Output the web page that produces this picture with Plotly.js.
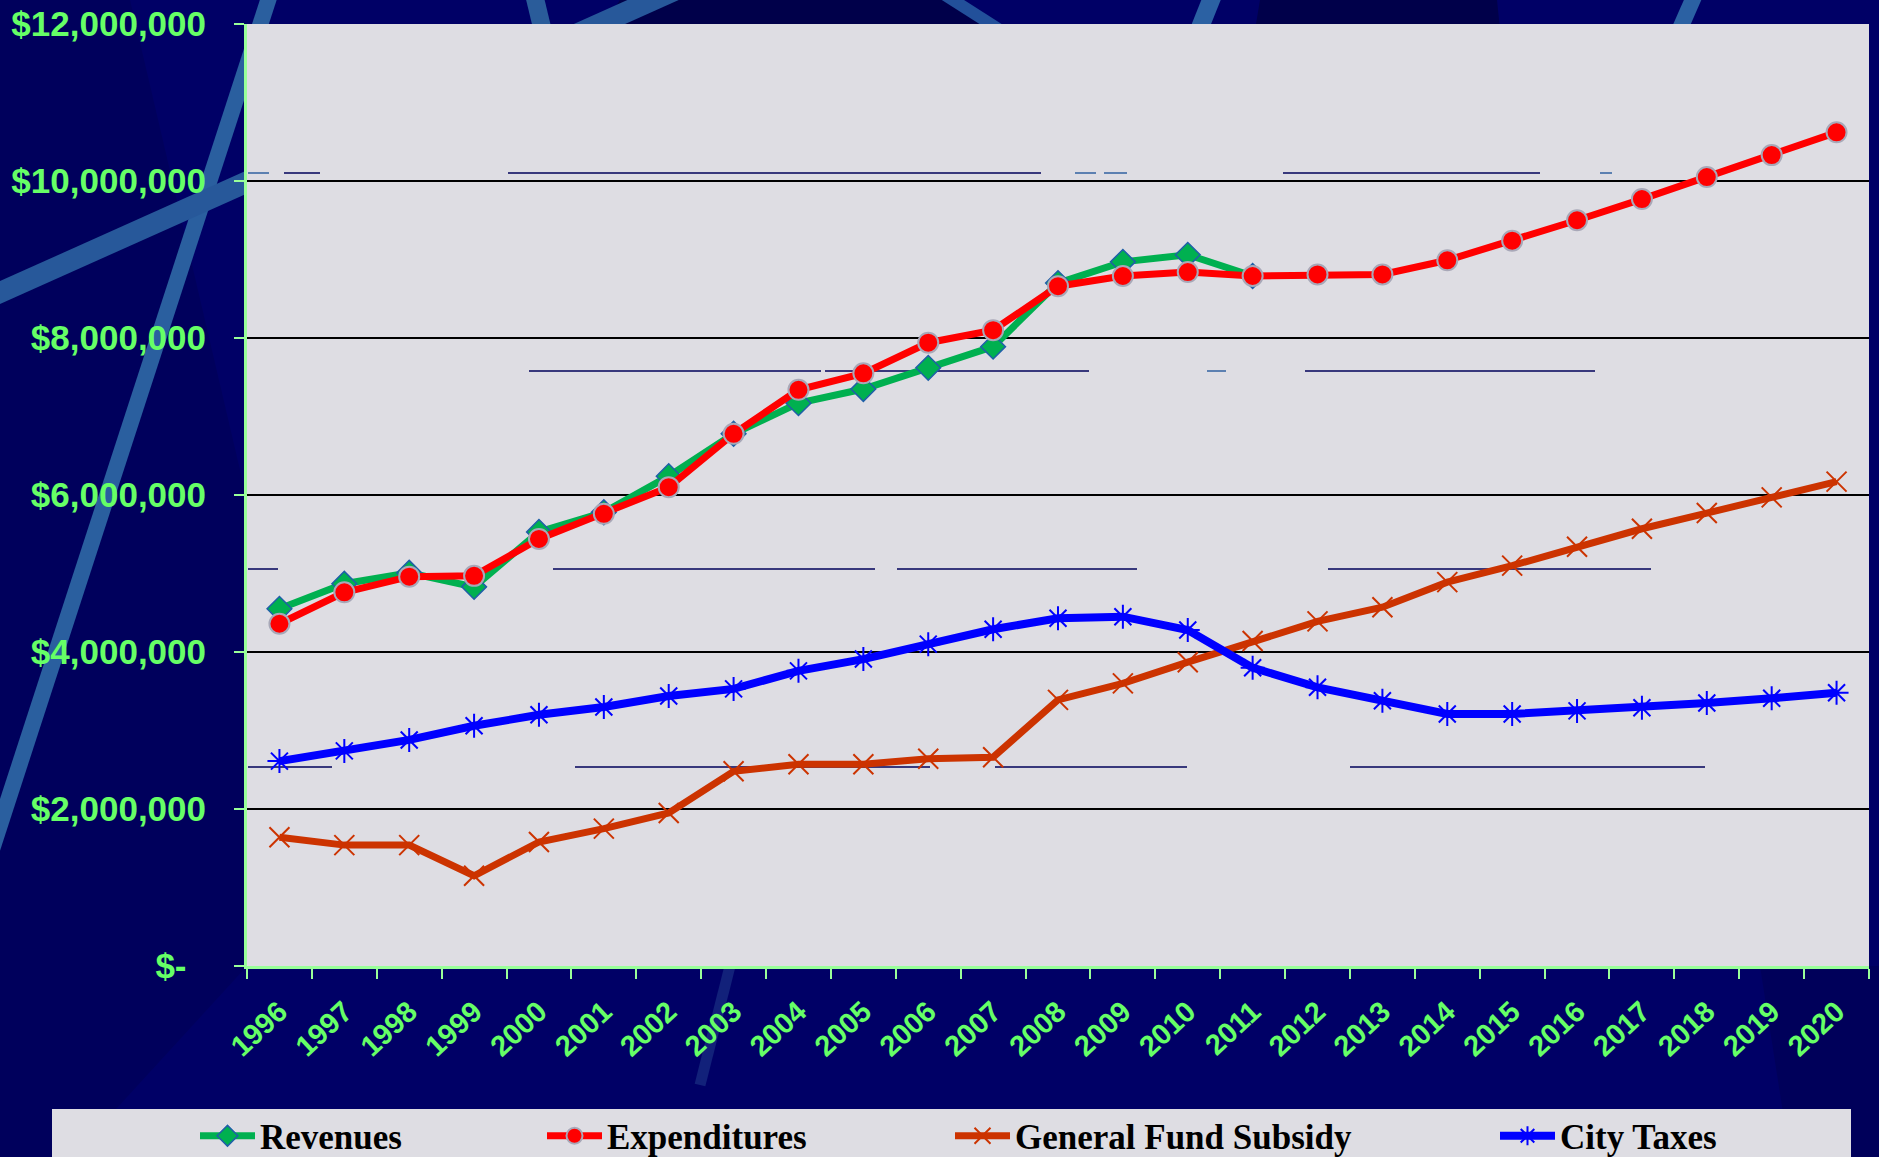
<!DOCTYPE html>
<html>
<head>
<meta charset="utf-8">
<script src="https://cdn.plot.ly/plotly-3.0.1.min.js"></script>
<style>html,body{margin:0;padding:0;background:#000066;}#chart{width:1879px;height:1157px;}</style>
</head>
<body>
<div id="chart"></div>
<script>
// ---- data ----
var years = ['1996','1997','1998','1999','2000','2001','2002','2003','2004','2005','2006','2007','2008','2009','2010','2011','2012','2013','2014','2015','2016','2017','2018','2019','2020'];
var revenues = [4550000,4870000,5010000,4830000,5530000,5780000,6240000,6780000,7170000,7350000,7620000,7890000,8700000,8970000,9060000,8790000,null,null,null,null,null,null,null,null,null];
var expenditures = [4360000,4760000,4960000,4970000,5440000,5760000,6100000,6780000,7340000,7550000,7940000,8100000,8660000,8790000,8840000,8790000,8810000,8810000,8990000,9240000,9500000,9770000,10050000,10330000,10620000];
var generalFundSubsidy = [1640000,1540000,1540000,1150000,1580000,1750000,1950000,2480000,2570000,2570000,2640000,2660000,3390000,3600000,3870000,4140000,4390000,4570000,4890000,5100000,5340000,5570000,5770000,5970000,6170000];
var cityTaxes = [2610000,2740000,2880000,3060000,3200000,3300000,3440000,3530000,3760000,3910000,4100000,4290000,4430000,4450000,4280000,3800000,3550000,3380000,3210000,3210000,3250000,3290000,3350000,3410000,3480000];
var seriesNames = ['Revenues','Expenditures','General Fund Subsidy','City Taxes'];
var yTickVals = [0,2000000,4000000,6000000,8000000,10000000,12000000];
var yTickText = ['$-\u2007','$2,000,000','$4,000,000','$6,000,000','$8,000,000','$10,000,000','$12,000,000'];

// ---- geometry helpers (decoration only) ----
var W = 1879, H = 1157, L = 247, R = 1869, T = 24, B = 966;
function px(x){ return (x - L) / (R - L); }
function py(y){ return (B - y) / (B - T); }

var traces = [
  {x: years, y: revenues, name: seriesNames[0], type: 'scatter', mode: 'lines+markers', legend: 'legend',
   line: {color: '#00B050', width: 7},
   marker: {symbol: 'diamond', size: 19, color: '#00B050', line: {color: '#1F5FA8', width: 1.5}}},
  {x: years, y: expenditures, name: seriesNames[1], type: 'scatter', mode: 'lines+markers', legend: 'legend2',
   line: {color: '#FF0000', width: 7},
   marker: {symbol: 'circle', size: 20, color: '#FF0000', line: {color: '#A8A8B8', width: 2}}},
  {x: years, y: generalFundSubsidy, name: seriesNames[2], type: 'scatter', mode: 'lines+markers', legend: 'legend3',
   line: {color: '#CC3300', width: 7},
   marker: {symbol: 'x-thin-open', size: 20, color: '#CC3300', line: {color: '#CC3300', width: 2}}},
  {x: years, y: cityTaxes, name: seriesNames[3], type: 'scatter', mode: 'lines+markers', legend: 'legend4',
   line: {color: '#0000FF', width: 8},
   marker: {symbol: 'asterisk-open', size: 20, color: '#0000FF', line: {color: '#0000FF', width: 2}}}
];

var shapes = [];
function poly(pts, c){
  var d = pts.map(function(p, i){ return (i ? 'L' : 'M') + px(p[0]) + ',' + py(p[1]); }).join('') + 'Z';
  shapes.push({type:'path', xref:'paper', yref:'paper', path:d, layer:'below', fillcolor:c, line:{width:0}});
}
function stripe(x0,y0,x1,y1,w,c){
  shapes.push({type:'line', xref:'paper', yref:'paper', x0:px(x0), y0:py(y0), x1:px(x1), y1:py(y1), layer:'below', line:{color:c, width:w}});
}
// background facets
poly([[0,0],[130,0],[247,500],[247,966],[72,1157],[0,1157]], '#00005C');
poly([[620,0],[951,0],[990,30],[600,30]], '#00004A');
poly([[1260,0],[1497,0],[1500,30],[1255,30]], '#00004A');
poly([[1760,966],[1879,966],[1879,1157],[1790,1157]], '#00005A');
// background stripes
stripe(278,-30,-109,1160,16,'#2A5F9F');
stripe(-30,306,720,-30,21,'#27589A');
stripe(533,-10,545,40,18,'#2A5C9A');
stripe(945,-5,1000,30,12,'#22509A');
stripe(1215,-10,1195,40,18,'#2B61A3');
stripe(1697,-10,1675,40,16,'#2B61A3');
stripe(730,966,700,1085,11,'rgba(60,110,170,0.3)');
// plot background
shapes.push({type:'rect', xref:'paper', yref:'paper', x0:0, x1:1, y0:0, y1:1, layer:'below', fillcolor:'#DEDDE3', line:{width:0}});
// legend box
shapes.push({type:'rect', xref:'paper', yref:'paper', x0:px(52), x1:px(1851), y0:py(1109), y1:py(1175), layer:'below', fillcolor:'#DEDDE3', line:{width:0}});
// faint navy artifact lines inside the plot
function seg(x0,x1,y,c){
  shapes.push({type:'line', xref:'paper', yref:'paper', x0:px(x0), x1:px(x1), y0:py(y), y1:py(y), layer:'below', line:{color:c||'#00005A', width:1.5}});
}
var lb = '#3060A0';
seg(248,269,173,lb); seg(284,320,173); seg(508,1041,173); seg(1075,1096,173,lb); seg(1104,1127,173,lb); seg(1283,1540,173); seg(1600,1612,173,lb);
seg(529,821,371); seg(825,1089,371); seg(1207,1226,371,lb); seg(1305,1595,371);
seg(248,278,569); seg(553,875,569); seg(897,1137,569); seg(1328,1651,569);
seg(248,332,767); seg(575,930,767); seg(995,1187,767); seg(1350,1705,767);

var legendFont = {family: 'Liberation Serif, "Times New Roman", serif', size: 35, color: '#000000', weight: 'bold'};
function leg(textStartPx){
  return {orientation: 'h', xref: 'container', yref: 'container',
          x: (textStartPx - 65) / W, xanchor: 'left', y: 1 - 1136 / H, yanchor: 'middle',
          bgcolor: 'rgba(0,0,0,0)', borderwidth: 0, font: legendFont, itemwidth: 55};
}

var layout = {
  width: W, height: H,
  margin: {l: L, r: W - R, t: T, b: H - B, pad: 0},
  paper_bgcolor: '#000066',
  plot_bgcolor: 'rgba(0,0,0,0)',
  showlegend: true,
  legend: leg(260), legend2: leg(607), legend3: leg(1015), legend4: leg(1560),
  xaxis: {
    type: 'category', range: [-0.5, 24.5], tickson: 'boundaries',
    showline: true, linecolor: '#99FF99', linewidth: 3,
    ticks: 'outside', ticklen: 10, tickwidth: 2, tickcolor: '#99FF99',
    showgrid: false, zeroline: false, tickangle: -43, ticklabelstandoff: 14,
    tickfont: {family: 'Liberation Sans, Arial, sans-serif', size: 29, color: '#66FF66', weight: 'bold'}
  },
  yaxis: {
    range: [0, 12000000], tickvals: yTickVals, ticktext: yTickText,
    showline: true, linecolor: '#99FF99', linewidth: 3,
    ticks: 'outside', ticklen: 10, tickwidth: 2, tickcolor: '#99FF99', ticklabelstandoff: 21,
    showgrid: true, gridcolor: '#000000', gridwidth: 2, zeroline: false,
    tickfont: {family: 'Liberation Sans, Arial, sans-serif', size: 35, color: '#66FF66', weight: 'bold'}
  },
  shapes: shapes
};

Plotly.newPlot('chart', traces, layout, {displayModeBar: false, staticPlot: true});
</script>
</body>
</html>
